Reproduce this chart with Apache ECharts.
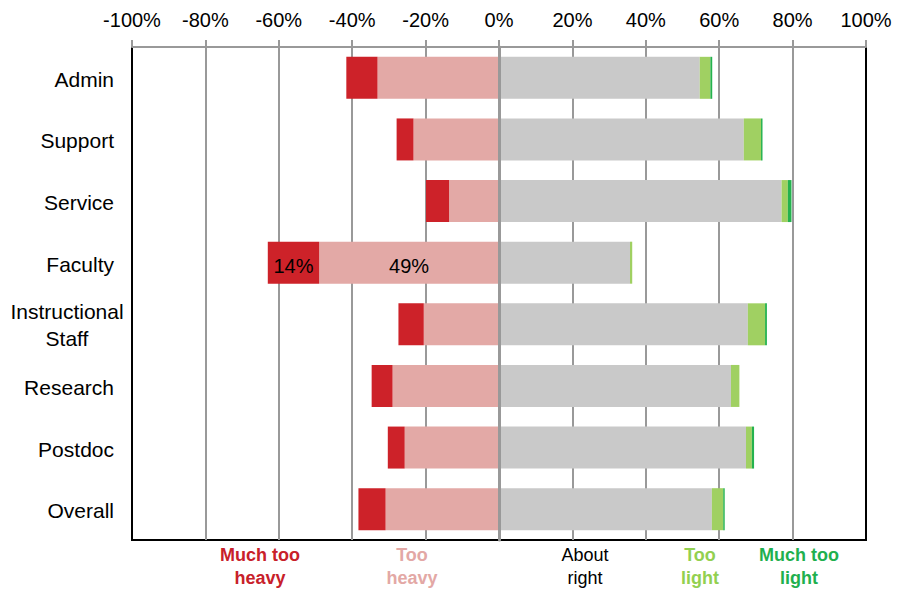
<!DOCTYPE html>
<html>
<head>
<meta charset="utf-8">
<script src="https://cdn.jsdelivr.net/npm/echarts@6/dist/echarts.min.js"></script>
<style>
  html, body { margin: 0; padding: 0; background: #fff; }
  #chart { width: 908px; height: 590px; }
</style>
</head>
<body>
<div id="chart"></div>
<script>
// Workload ratings by employee group (percent of respondents)
const categories = ['Admin', 'Support', 'Service', 'Faculty', 'Instructional\nStaff', 'Research', 'Postdoc', 'Overall'];
const muchTooHeavy = [8.5, 4.6, 6.3, 14, 6.9, 5.7, 4.6, 7.4];
const tooHeavy     = [33.1, 23.3, 13.6, 49, 20.5, 29.0, 25.7, 30.9];
const aboutRight   = [54.7, 66.7, 77.0, 35.7, 67.8, 63.2, 67.3, 58.0];
const tooLight     = [2.9, 4.7, 1.7, 0.6, 4.7, 2.3, 1.6, 3.1];
const muchTooLight = [0.5, 0.4, 1.0, 0.0, 0.5, 0.0, 0.6, 0.4];
const tickValues = { min: -100, max: 100, step: 20 };
const labelledRow = 'Faculty';

const colors = {
  muchTooHeavy: '#cd2229',
  tooHeavy: '#e3a9a6',
  aboutRight: '#c9c9c9',
  tooLight: '#a0d062',
  muchTooLight: '#24b24e'
};

const FONT = 'Liberation Sans, Arial, sans-serif';

// Heavy answers are drawn to the left of zero
function negWithLabel(values) {
  return values.map((v, i) => {
    const item = { value: -v };
    if (categories[i] === labelledRow) {
      item.label = {
        show: true,
        position: 'inside',
        formatter: '{p|' + Math.round(v) + '%}',
        rich: {
          p: { color: '#000', fontSize: 20, fontFamily: FONT, padding: [6, 0, 0, 0] }
        }
      };
    }
    return item;
  });
}

function barSeries(name, data, color) {
  return {
    name: name,
    type: 'bar',
    stack: 'total',
    barWidth: 42,
    xAxisIndex: 0,
    clip: false,
    z: 3,
    data: data,
    itemStyle: { color: color, opacity: 1, borderWidth: 0 },
    emphasis: { disabled: true },
    silent: true
  };
}

const yData = categories.map(c => {
  if (c.indexOf('\n') >= 0) {
    return {
      value: c,
      textStyle: { align: 'center', padding: [0, 94, 0, 0] }
    };
  }
  return c;
});

const chart = echarts.init(document.getElementById('chart'), null, { renderer: 'svg' });

const legendItems = [
  { text: 'Much too\nheavy', x: 260, color: '#c8202a', bold: true },
  { text: 'Too\nheavy', x: 412, color: '#e3a8a5', bold: true },
  { text: 'About\nright', x: 585, color: '#000000', bold: false },
  { text: 'Too\nlight', x: 700, color: '#92d050', bold: true },
  { text: 'Much too\nlight', x: 799, color: '#1fb04f', bold: true }
];

chart.setOption({
  animation: false,
  backgroundColor: '#fff',
  grid: {
    left: 132, right: 42, top: 47, bottom: 50,
    show: true,
    borderColor: '#000',
    borderWidth: 2,
    backgroundColor: 'transparent'
  },
  xAxis: [
    {
      // percent scale along the top
      type: 'value',
      position: 'top',
      min: tickValues.min,
      max: tickValues.max,
      interval: tickValues.step,
      z: 10,
      axisLine: { show: true, lineStyle: { color: '#999', width: 2 } },
      axisTick: { show: true, length: 7, lineStyle: { color: '#999', width: 2 } },
      axisLabel: {
        formatter: '{value}%',
        fontSize: 20,
        color: '#000',
        fontFamily: FONT,
        margin: 17
      },
      splitLine: { show: false }
    },
    {
      // same scale, only used for the vertical guide lines behind the bars
      type: 'value',
      position: 'bottom',
      min: tickValues.min,
      max: tickValues.max,
      interval: tickValues.step,
      z: 0,
      axisLine: { show: false },
      axisTick: { show: false },
      axisLabel: { show: false },
      splitLine: {
        show: true,
        showMinLine: false,
        showMaxLine: false,
        lineStyle: { color: '#999', width: 2 }
      }
    }
  ],
  yAxis: {
    type: 'category',
    inverse: true,
    data: yData,
    z: 6,
    axisLine: { show: true, onZero: true, lineStyle: { color: '#999', width: 3 } },
    axisTick: { show: false },
    axisLabel: {
      margin: 18,
      formatter: function (v) {
        return v.split('\n').map((line, i) => (i === 0 ? '{p|' : '{n|') + line + '}').join('\n');
      },
      rich: {
        p: { fontSize: 21, color: '#000', fontFamily: FONT, lineHeight: 28, padding: [3, 0, 0, 0] },
        n: { fontSize: 21, color: '#000', fontFamily: FONT, lineHeight: 28 }
      }
    },
    splitLine: { show: false }
  },
  series: [
    barSeries('Too heavy', negWithLabel(tooHeavy), colors.tooHeavy),
    barSeries('Much too heavy', negWithLabel(muchTooHeavy), colors.muchTooHeavy),
    barSeries('About right', aboutRight, colors.aboutRight),
    barSeries('Too light', tooLight, colors.tooLight),
    barSeries('Much too light', muchTooLight, colors.muchTooLight)
  ],
  graphic: legendItems.map(it => ({
    type: 'text',
    x: it.x,
    y: 543,
    silent: true,
    style: {
      text: it.text,
      fill: it.color,
      font: (it.bold ? 'bold ' : '') + '18px ' + FONT,
      align: 'center',
      verticalAlign: 'top',
      lineHeight: 23
    }
  }))
});
</script>
</body>
</html>
